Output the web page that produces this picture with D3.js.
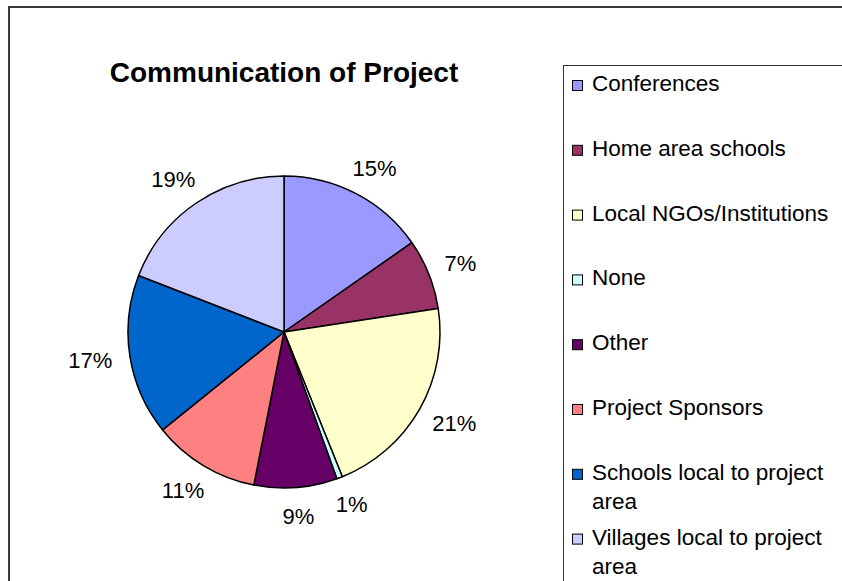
<!DOCTYPE html>
<html>
<head>
<meta charset="utf-8">
<script src="https://cdn.jsdelivr.net/npm/d3@7"></script>
<style>
  body { margin: 0; background: #fff; }
  svg text { font-family: "Liberation Sans", Arial, sans-serif; }
</style>
</head>
<body>
<div id="chart"></div>
<script>
var categories = ["Conferences", "Home area schools", "Local NGOs/Institutions", "None", "Other",
    "Project Sponsors", "Schools local to project area", "Villages local to project area"];
var legendLines = [["Conferences"], ["Home area schools"], ["Local NGOs/Institutions"], ["None"], ["Other"],
    ["Project Sponsors"], ["Schools local to project", "area"], ["Villages local to project", "area"]];
var values = [15.3, 7.3, 21.3, 0.6, 8.6, 11.1, 16.7, 19.1];
var colors = ["#9999FF", "#993366", "#FFFFCC", "#CCFFFF", "#660066", "#FF8080", "#0066CC", "#CCCCFF"];

function drawPie() {
    var W = 842, H = 581;
    var cx = 284, cy = 332, r = 156;

    var svg = d3.select("#chart").append("svg")
        .attr("width", W).attr("height", H);

    // chart area border
    svg.append("rect")
        .attr("x", 9).attr("y", 7)
        .attr("width", W + 20).attr("height", H + 20)
        .attr("fill", "#fff")
        .attr("stroke", "#3a3a3a")
        .attr("stroke-width", 2);

    svg.append("text")
        .attr("x", cx).attr("y", 82)
        .attr("text-anchor", "middle")
        .style("font-size", "28px")
        .style("font-weight", "bold")
        .text("Communication of Project");

    var total = d3.sum(values);
    var data = categories.map(function(c, i) { return {name: c, value: values[i], color: colors[i]}; });

    var pie = d3.pie().sort(null).value(function(d) { return d.value; });
    var arc = d3.arc().innerRadius(0).outerRadius(r);
    var arcs = pie(data);

    var g = svg.append("g").attr("transform", "translate(" + cx + "," + cy + ")");

    g.selectAll("path")
        .data(arcs)
        .enter().append("path")
        .attr("d", arc)
        .attr("fill", function(d) { return d.data.color; })
        .attr("stroke", "#000")
        .attr("stroke-width", 1.5)
        .attr("stroke-linejoin", "round");

    var fmt = d3.format(".0%");
    g.selectAll(".pct")
        .data(arcs)
        .enter().append("text")
        .attr("class", "pct")
        .style("font-size", "22px")
        .attr("text-anchor", "middle")
        .attr("dy", "0.35em")
        .text(function(d) { return fmt(d.data.value / total); })
        .each(function(d) {
            var a = (d.startAngle + d.endAngle) / 2;
            var bb = this.getBBox();
            var R = r + 18;
            var x = Math.sin(a) * R + Math.sin(a) * bb.width / 2;
            var y = -Math.cos(a) * R - Math.cos(a) * bb.height / 2 * 0.85;
            d3.select(this).attr("x", x).attr("y", y);
        });

    // legend
    svg.append("rect")
        .attr("x", 563.5).attr("y", 65.5)
        .attr("width", 300).attr("height", 540)
        .attr("fill", "#fff")
        .attr("stroke", "#333")
        .attr("stroke-width", 1);

    var leg = svg.append("g");
    legendLines.forEach(function(lines, i) {
        var base = 91 + i * 64.8;
        leg.append("rect")
            .attr("x", 572.5).attr("y", base - 10.5)
            .attr("width", 10).attr("height", 10)
            .attr("fill", colors[i])
            .attr("stroke", "#000")
            .attr("stroke-width", 1);
        lines.forEach(function(t, j) {
            leg.append("text")
                .attr("x", 592).attr("y", base + j * 29)
                .style("font-size", "22.5px")
                .text(t);
        });
    });
}

drawPie();
</script>
</body>
</html>
